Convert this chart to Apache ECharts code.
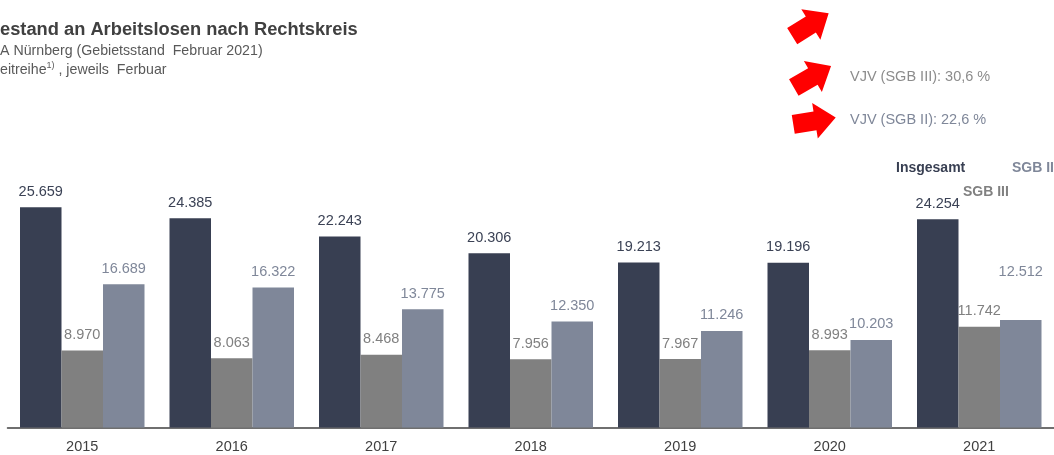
<!DOCTYPE html>
<html>
<head>
<meta charset="utf-8">
<script src="https://cdn.jsdelivr.net/npm/echarts@6/dist/echarts.min.js"></script>
<style>
html,body{margin:0;padding:0;background:#fff;}
#chart{width:1054px;height:455px;}
</style>
</head>
<body>
<div id="chart"></div>
<script>
var categories = ['2015', '2016', '2017', '2018', '2019', '2020', '2021'];
var seriesNames = ['Insgesamt', 'SGB III', 'SGB II'];
var insgesamt = [25659, 24385, 22243, 20306, 19213, 19196, 24254];
var sgb3 = [8970, 8063, 8468, 7956, 7967, 8993, 11742];
var sgb2 = [16689, 16322, 13775, 12350, 11246, 10203, 12512];
var vjvTexts = ['VJV (SGB III): 30,6 %', 'VJV (SGB II): 22,6 %'];

var FONT = '"Liberation Sans", Arial, sans-serif';
var C_TOT = '#383f52', C_S3 = '#808080', C_S2 = '#7f8799';

function fmt(v) {
  var t = Math.floor(v / 1000), r = v % 1000;
  return t + '.' + String(r).padStart(3, '0');
}

function mkSeries(name, data, color, labelColor, specialIdx, specialOffset) {
  return {
    name: name,
    type: 'bar',
    barWidth: 41.5,
    barGap: '0%',
    itemStyle: { color: color },
    label: {
      show: true, position: 'top', distance: 8,
      color: labelColor, fontSize: 14.5, fontFamily: FONT,
      formatter: function (p) { return fmt(p.value); }
    },
    data: data.map(function (v, i) {
      if (i === specialIdx) return { value: v, label: { offset: specialOffset } };
      return v;
    })
  };
}

var arrowShape = [[-21, -9.5], [1, -9.5], [1, -18], [22, 0], [1, 18], [1, 9.5], [-21, 9.5]];
function arrow(x, y, deg) {
  return { type: 'polygon', x: x, y: y, rotation: deg * Math.PI / 180,
    shape: { points: arrowShape }, style: { fill: '#ff0000' } };
}
function txt(x, y, text, size, color, weight, extra) {
  var s = { text: text, fontSize: size, fontFamily: FONT, fill: color,
    fontWeight: weight || 'normal', textVerticalAlign: 'middle' };
  if (extra) for (var k in extra) s[k] = extra[k];
  return { type: 'text', x: x, y: y, style: s };
}

var chart = echarts.init(document.getElementById('chart'));
chart.setOption({
  animation: false,
  backgroundColor: '#ffffff',
  grid: { left: 7.5, top: 170, width: 1057, bottom: 27.5 },
  xAxis: {
    type: 'category', data: categories,
    axisLine: { lineStyle: { color: '#404040', width: 1.5 } },
    axisTick: { show: false },
    axisLabel: { color: '#404040', fontSize: 14.5, fontFamily: FONT, margin: 12 }
  },
  yAxis: { type: 'value', min: 0, max: 30000, show: false, splitLine: { show: false } },
  series: [
    mkSeries(seriesNames[0], insgesamt, C_TOT, '#3b4255', -1),
    mkSeries(seriesNames[1], sgb3, C_S3, '#808080', -1),
    mkSeries(seriesNames[2], sgb2, C_S2, C_S2, 6, [0, -33])
  ],
  graphic: [
    txt(0, 30, 'estand an Arbeitslosen nach Rechtskreis', 18.3, '#404040', 'bold'),
    txt(0, 51, 'A Nürnberg (Gebietsstand  Februar 2021)', 14.2, '#595959'),
    {
      type: 'text', x: 0, y: 70,
      style: {
        text: 'eitreihe{sup|1)} , jeweils  Ferbuar',
        fontSize: 14.2, fontFamily: FONT, fill: '#595959', textVerticalAlign: 'middle',
        rich: { sup: { fontSize: 9, fontFamily: FONT, fill: '#595959', padding: [0, 0, 8, 0] } }
      }
    },
    arrow(810, 25, 32),
    arrow(812, 77, 30),
    arrow(814, 121, 9),
    txt(850, 77, vjvTexts[0], 14.5, '#8c8c8c'),
    txt(850, 120, vjvTexts[1], 14.5, C_S2),
    txt(896, 168, seriesNames[0], 14, C_TOT, 'bold'),
    txt(1012, 168, seriesNames[2], 14, C_S2, 'bold'),
    txt(963, 192, seriesNames[1], 14, C_S3, 'bold')
  ]
});
</script>
</body>
</html>
